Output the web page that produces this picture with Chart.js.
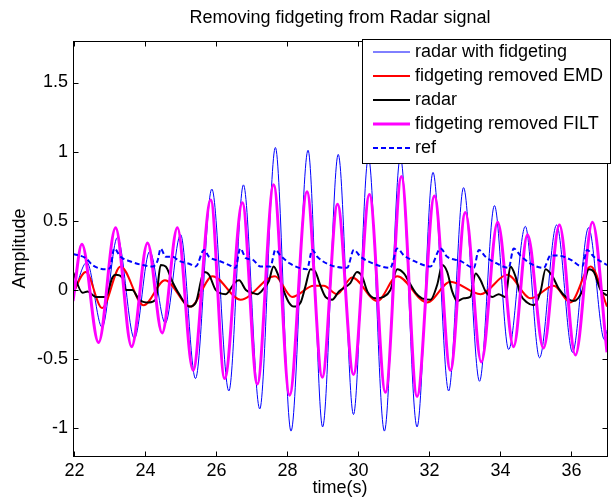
<!DOCTYPE html>
<html>
<head>
<meta charset="utf-8">
<script src="https://cdn.jsdelivr.net/npm/chart.js@4.4.1/dist/chart.umd.min.js"></script>
<style>
  html, body { margin: 0; padding: 0; background: #fff; }
  canvas { display: block; }
</style>
</head>
<body>
<canvas id="c" width="613" height="500"></canvas>
<script>
// values (time in s, amplitude)
var fidgetT = [21.96, 22.35, 22.78, 23.21, 23.69, 24.12, 24.56, 24.99, 25.41, 25.87, 26.35, 26.76, 27.22, 27.66, 28.10, 28.58, 28.99, 29.43, 29.86, 30.28, 30.73, 31.18, 31.65, 32.10, 32.54, 32.96, 33.41, 33.83, 34.23, 34.70, 35.10, 35.58, 36.03, 36.48, 36.93, 37.0];
var fidgetV = [-0.05, 0.20, -0.27, 0.38, -0.35, 0.28, -0.24, 0.40, -0.64, 0.73, -0.73, 0.76, -0.86, 1.03, -1.02, 1.01, -0.99, 0.98, -0.90, 0.96, -1.02, 0.96, -0.99, 0.85, -0.73, 0.74, -0.66, 0.61, -0.43, 0.46, -0.49, 0.47, -0.45, 0.45, -0.36, -0.29];

var emdT = [21.96, 22.32, 22.78, 23.30, 23.95, 24.55, 25.27, 25.89, 26.68, 27.65, 28.13, 28.74, 29.02, 29.40, 29.82, 30.53, 31.09, 31.93, 32.59, 33.44, 34.19, 34.85, 35.50, 35.97, 36.54, 37.0];
var emdV = [-0.02, 0.13, -0.13, 0.17, -0.11, 0.07, -0.12, 0.10, -0.07, 0.10, -0.05, 0.03, 0.03, -0.03, 0.09, -0.08, 0.10, -0.09, 0.06, -0.03, 0.11, -0.06, 0.03, -0.09, 0.17, -0.12];

var radarT = [21.96, 22.23, 22.37, 22.60, 22.88, 23.07, 23.16, 23.35, 23.45, 23.63, 23.82, 24.10, 24.29, 24.43, 24.57, 24.76, 24.95, 25.23, 25.42, 25.65, 25.79, 25.98, 26.26, 26.54, 26.64, 26.83, 27.01, 27.15, 27.33, 27.47, 27.61, 27.75, 27.90, 28.04, 28.18, 28.37, 28.51, 28.65, 28.79, 28.93, 29.07, 29.26, 29.45, 29.77, 29.96, 30.10, 30.25, 30.48, 30.71, 30.90, 31.09, 31.28, 31.42, 31.61, 31.79, 32.03, 32.22, 32.36, 32.50, 32.64, 32.78, 32.97, 33.15, 33.30, 33.44, 33.58, 33.77, 33.95, 34.14, 34.28, 34.42, 34.56, 34.75, 34.94, 35.13, 35.27, 35.46, 35.64, 35.88, 36.06, 36.30, 36.49, 36.63, 36.82, 37.0];
var radarV = [0.13, -0.02, -0.01, -0.05, -0.05, 0.09, 0.11, 0.09, 0.00, 0.00, -0.07, -0.09, -0.07, 0.18, 0.17, 0.06, -0.03, -0.12, -0.09, 0.13, 0.11, 0.00, -0.03, 0.06, 0.07, 0.00, -0.02, -0.03, 0.01, 0.06, 0.17, 0.10, -0.01, -0.09, -0.12, -0.09, 0.03, 0.15, 0.13, 0.03, -0.05, -0.07, -0.01, 0.05, 0.13, 0.10, -0.01, -0.06, -0.05, 0.00, 0.15, 0.12, 0.06, -0.02, -0.06, -0.07, 0.04, 0.18, 0.13, -0.01, -0.08, -0.06, -0.05, 0.12, 0.07, -0.01, -0.05, -0.03, -0.05, 0.17, 0.10, -0.03, -0.09, -0.11, -0.01, 0.15, 0.10, 0.01, -0.06, -0.08, -0.01, 0.15, 0.13, 0.00, -0.04];

var filtT = [21.96, 22.21, 22.68, 23.16, 23.61, 24.06, 24.47, 24.90, 25.34, 25.84, 26.23, 26.73, 27.15, 27.61, 28.06, 28.55, 28.98, 29.41, 29.86, 30.31, 30.76, 31.21, 31.65, 32.14, 32.59, 33.01, 33.46, 33.92, 34.37, 34.76, 35.21, 35.66, 36.11, 36.59, 37.0];
var filtV = [-0.08, 0.33, -0.38, 0.45, -0.41, 0.34, -0.31, 0.45, -0.58, 0.65, -0.64, 0.63, -0.68, 0.76, -0.76, 0.71, -0.63, 0.62, -0.61, 0.69, -0.74, 0.82, -0.77, 0.68, -0.58, 0.56, -0.52, 0.49, -0.41, 0.40, -0.42, 0.47, -0.47, 0.49, -0.45];

var refT = [21.96, 22.32, 22.51, 22.88, 23.01, 23.12, 23.30, 23.54, 23.92, 24.20, 24.34, 24.43, 24.57, 24.76, 24.95, 25.23, 25.42, 25.65, 25.79, 26.08, 26.36, 26.54, 26.67, 26.83, 27.01, 27.24, 27.52, 27.66, 27.80, 28.08, 28.55, 28.70, 28.84, 29.21, 29.68, 29.87, 30.06, 30.43, 30.90, 31.09, 31.28, 31.56, 32.03, 32.31, 32.50, 32.87, 33.25, 33.39, 33.58, 33.91, 34.23, 34.37, 34.56, 34.85, 35.22, 35.41, 35.60, 35.97, 36.30, 36.44, 36.63, 37.0];
var refV = [0.26, 0.23, 0.18, 0.15, 0.16, 0.30, 0.24, 0.21, 0.18, 0.17, 0.21, 0.30, 0.24, 0.24, 0.21, 0.19, 0.17, 0.29, 0.24, 0.21, 0.18, 0.16, 0.30, 0.23, 0.22, 0.17, 0.17, 0.29, 0.25, 0.19, 0.15, 0.29, 0.24, 0.18, 0.16, 0.29, 0.24, 0.19, 0.16, 0.30, 0.25, 0.21, 0.17, 0.30, 0.24, 0.21, 0.16, 0.29, 0.24, 0.19, 0.16, 0.30, 0.25, 0.19, 0.16, 0.25, 0.25, 0.22, 0.17, 0.29, 0.24, 0.18];

var xTicks = [22, 24, 26, 28, 30, 32, 34, 36];
var yTicks = [-1, -0.5, 0, 0.5, 1, 1.5];

var FONT = "'Liberation Sans', Arial, sans-serif";

function pts(t, v) {
  var out = [];
  for (var i = 0; i < t.length; i++) out.push({x: t[i], y: v[i]});
  return out;
}

function line(label, t, v, color, width, order, dash) {
  return {
    label: label,
    data: pts(t, v),
    borderColor: color,
    borderWidth: width,
    borderDash: dash || [],
    pointRadius: 0,
    fill: false,
    cubicInterpolationMode: 'monotone',
    order: order
  };
}

// box, inward ticks, title and legend the way matlab draws them
var frame = {
  id: 'frame',
  afterDatasetsDraw: function(chart) {
    var ctx = chart.ctx, a = chart.chartArea;
    var xs = chart.scales.x, ys = chart.scales.y;
    var L = Math.round(a.left) + 0.5, R = Math.round(a.right) + 0.5;
    var T = Math.round(a.top) + 0.5, B = Math.round(a.bottom) + 0.5;
    ctx.save();
    ctx.strokeStyle = '#000';
    ctx.lineWidth = 1;
    ctx.setLineDash([]);
    ctx.beginPath();
    xTicks.forEach(function(t) {
      var px = Math.round(xs.getPixelForValue(t)) + 0.5;
      ctx.moveTo(px, B); ctx.lineTo(px, B - 5);
      ctx.moveTo(px, T); ctx.lineTo(px, T + 5);
    });
    yTicks.forEach(function(v) {
      var py = Math.round(ys.getPixelForValue(v)) + 0.5;
      ctx.moveTo(L, py); ctx.lineTo(L + 5, py);
      ctx.moveTo(R, py); ctx.lineTo(R - 5, py);
    });
    ctx.stroke();
    ctx.strokeRect(L, T, R - L, B - T);

    // title
    ctx.fillStyle = '#000';
    ctx.font = '18px ' + FONT;
    ctx.textAlign = 'center';
    ctx.textBaseline = 'middle';
    ctx.fillText('Removing fidgeting from Radar signal', (a.left + a.right) / 2, 18);

    // legend
    var lx = 362.5, ly = 39.5, lw = 248, lh = 124;
    ctx.fillStyle = '#fff';
    ctx.fillRect(lx, ly, lw, lh);
    ctx.strokeRect(lx, ly, lw, lh);
    ctx.textAlign = 'left';
    chart.data.datasets.forEach(function(ds, i) {
      var y = 52 + i * 24;
      ctx.strokeStyle = ds.borderColor;
      ctx.lineWidth = ds.borderWidth;
      ctx.setLineDash(ds.borderDash);
      ctx.beginPath();
      ctx.moveTo(373, y); ctx.lineTo(410, y);
      ctx.stroke();
      ctx.fillStyle = '#000';
      ctx.fillText(ds.label, 415, y);
    });
    ctx.restore();
  }
};

new Chart(document.getElementById('c'), {
  type: 'line',
  data: {
    datasets: [
      line('radar with fidgeting', fidgetT, fidgetV, '#0000ff', 1, 5),
      line('fidgeting removed EMD', emdT, emdV, '#ff0000', 2, 4),
      line('radar', radarT, radarV, '#000000', 2, 3),
      line('fidgeting removed FILT', filtT, filtV, '#ff00ff', 3, 2),
      line('ref', refT, refV, '#0000ff', 2, 1, [5, 3])
    ]
  },
  options: {
    responsive: false,
    animation: false,
    devicePixelRatio: 1,
    layout: { padding: { top: 41, right: 6, left: 0, bottom: 0 } },
    plugins: { legend: { display: false }, tooltip: { enabled: false } },
    scales: {
      x: {
        type: 'linear',
        min: 21.96,
        max: 37,
        afterBuildTicks: function(s) { s.ticks = xTicks.map(function(v) { return {value: v}; }); },
        afterFit: function(s) { s.height = 44; },
        grid: { display: false, drawTicks: false },
        border: { display: false },
        ticks: { color: '#000', font: { size: 18, family: FONT }, padding: 4, maxRotation: 0, autoSkip: false,
                 callback: function(v) { return String(v); } },
        title: { display: true, text: 'time(s)', color: '#000', font: { size: 18, family: FONT }, padding: { top: 0, bottom: 1 } }
      },
      y: {
        type: 'linear',
        min: -1.2,
        max: 1.8,
        afterBuildTicks: function(s) { s.ticks = yTicks.map(function(v) { return {value: v}; }); },
        afterFit: function(s) { s.width = 73; },
        grid: { display: false, drawTicks: false },
        border: { display: false },
        ticks: { color: '#000', font: { size: 18, family: FONT }, padding: 5, autoSkip: false,
                 callback: function(v) { return String(v); } },
        title: { display: true, text: 'Amplitude', color: '#000', font: { size: 18, family: FONT }, padding: { top: 9, bottom: 0 } }
      }
    }
  },
  plugins: [frame]
});
</script>
</body>
</html>
